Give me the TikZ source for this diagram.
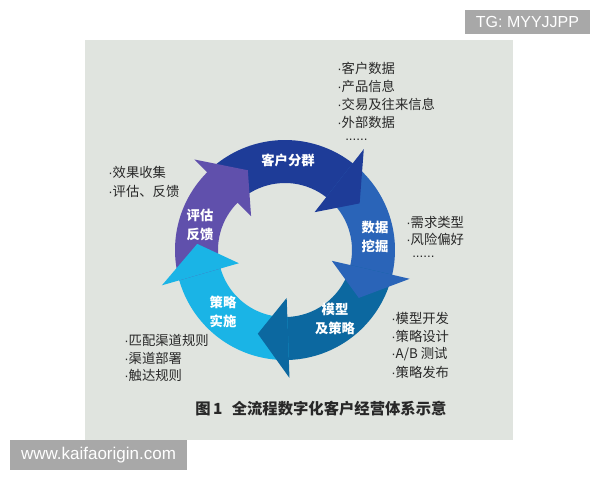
\documentclass[tikz,border=0pt]{standalone}
\usepackage{fontspec}
\setmainfont{Liberation Sans}
\newfontfamily\cjk{Noto Sans CJK SC}
\newcommand{\dotmark}{{\rmfamily·}}
\definecolor{panel}{RGB}{224,228,223}
\definecolor{segA}{RGB}{30,60,152}
\definecolor{segB}{RGB}{42,100,184}
\definecolor{segC}{RGB}{12,104,160}
\definecolor{segD}{RGB}{26,180,230}
\definecolor{segE}{RGB}{96,80,172}
\definecolor{tag}{RGB}{168,168,168}
\definecolor{ink}{RGB}{40,40,40}

\begin{document}
\begin{tikzpicture}[x=0.75pt,y=-0.75pt,
    segtext/.style={text=white,font=\cjk\bfseries\fontsize{10}{14.25}\selectfont,align=center},
    item/.style={text=ink,font=\cjk\fontsize{10}{13}\selectfont,anchor=west,inner sep=0pt},
    tagbox/.style={fill=tag,text=white,inner sep=0pt}]
\useasboundingbox (0,0) rectangle (600,480);
% background panel
\fill[panel] (85,40) rectangle (513,440);
% ring segments, then the heads on top
\foreach \a/\b/\c in {-135/-52/segA,-52/13/segB,13/88/segC,88/164/segD,164/225/segE}
    \fill[\c,shift={(285,250)}] plot[domain=\a:\b+2,samples=40] (\x:110)
        -- plot[domain=\b+2:\a,samples=40] (\x:67) -- cycle;
\foreach \b/\c in {-52/segA,13/segB,88/segC,164/segD,225/segE}
    \fill[\c,shift={(285,250)}] (\b:128) -- (\b+20:88) -- (\b:48) -- cycle;
% step names
\node[segtext] (group) at (288,160) {客户分群};
\node[segtext] (mine) at (375,237) {数据\\挖掘};
\node[segtext] (model) at (335,319) {模型\\及策略};
\node[segtext] (exec) at (223,312) {策略\\实施};
\node[segtext] (eval) at (200,225) {评估\\反馈};
% lists beside the ring
\foreach \t [count=\i] in {客户数据,产品信息,交易及往来信息,外部数据}
    \node[item] (src\i) at (337,50+18*\i) {\dotmark\t};
\node[item,font=\rmfamily\fontsize{10}{13}\selectfont] (srcmore) at (345,140) {......};
\foreach \t [count=\i] in {需求类型,风险偏好}
    \node[item] (need\i) at (406,205+17*\i) {\dotmark\t};
\node[item,font=\rmfamily\fontsize{10}{13}\selectfont] (needmore) at (412,257) {......};
\foreach \t [count=\i] in {模型开发,策略设计,{A/B 测试},策略发布}
    \node[item] (work\i) at (391,300+18*\i) {\dotmark\t};
\foreach \t [count=\i] in {匹配渠道规则,渠道部署,触达规则}
    \node[item] (chan\i) at (124,323+17.5*\i) {\dotmark\t};
\foreach \t [count=\i] in {效果收集,评估、反馈}
    \node[item] (fb\i) at (108,154+18.5*\i) {\dotmark\t};
% caption
\node[anchor=west,inner sep=0pt,text=ink,font=\cjk\bfseries\fontsize{11.5}{14}\selectfont]
    (cap) at (195,409) {图\,1\hspace{7pt}全流程数字化客户经营体系示意};
% watermarks
\node[tagbox,minimum width=93.75pt,minimum height=18pt,font=\fontsize{12}{14}\selectfont]
    (tg) at (527.5,22) {TG: MYYJJPP};
\node[tagbox,minimum width=132.75pt,minimum height=22.5pt,font=\fontsize{12.75}{15}\selectfont]
    (site) at (98.5,455) {www.kaifaorigin.com};
\end{tikzpicture}
\end{document}
